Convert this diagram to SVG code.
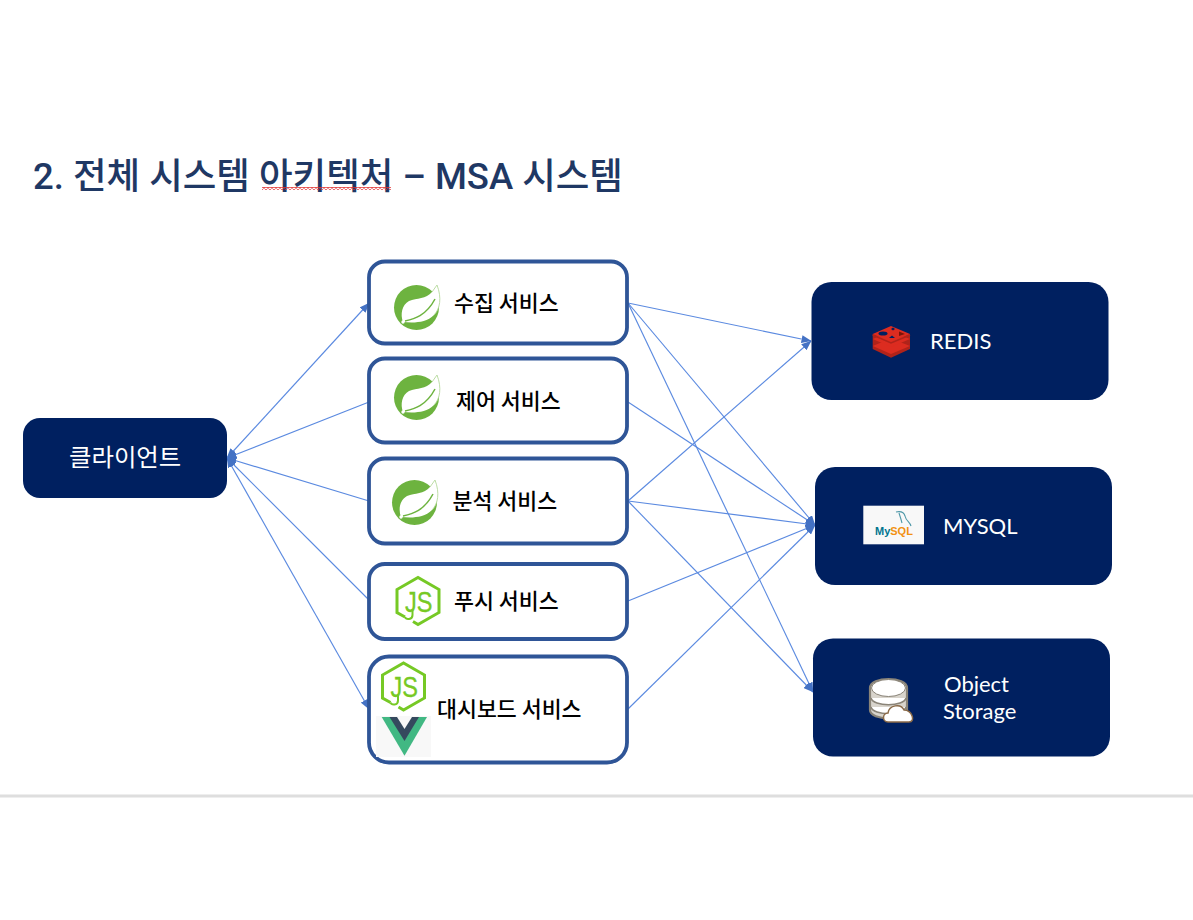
<svg xmlns="http://www.w3.org/2000/svg" width="1193" height="920" viewBox="0 0 1193 920">
<style>
.conn{stroke:#5b8ae0;stroke-width:1.15;fill:none;marker-end:url(#ah)}
.svc{fill:#fff;stroke:#2f5597;stroke-width:3.8}
.dark{fill:#002060}
.kr{font-family:"Noto Sans CJK KR","Noto Sans",sans-serif}
.lbl{font-size:21.7px;font-weight:500;fill:#000}
.lat{font-family:"Lato","Open Sans",sans-serif;font-size:22px;fill:#fff}
.js{font-family:"Liberation Sans",sans-serif;font-size:29px;fill:#76c925;stroke:#76c925;stroke-width:.3}
</style>
<defs>
<marker id="ah" viewBox="0 0 10 8" refX="9.500" refY="4" markerWidth="10" markerHeight="8" markerUnits="userSpaceOnUse" orient="auto-start-reverse"><path d="M0 0L10 4L0 8Z" fill="#4472c4"/></marker>
<pattern id="wavy" width="4" height="3" patternUnits="userSpaceOnUse"><path d="M0 2.200L2 .6L4 2.200" fill="none" stroke="#e03030" stroke-width="1.100"/></pattern>
<g id="spring">
<circle cx="28.500" cy="29.500" r="22.500" fill="#6db33f"/>
<path d="M15 44C12 36 14 27 21 23C29 20 38 21 44 14L49 7C54 20 52 31 46 37C38 45 26 45 15 44Z" fill="#fff"/>
<path d="M44 14L49 7C54 20 52 31 46 37" fill="none" stroke="#b5d99c" stroke-width=".9"/>
<path d="M17 43C26 41 38 38 47 21" fill="none" stroke="#6db33f" stroke-width="1.500"/>
<circle cx="15" cy="44" r="1.700" fill="#fff"/>
</g>
<g id="node">
<path d="M-5 20.500L0 23.500L21 11.500V-11.500L0 -23.500L-21 -11.500V11.500L-13 16" fill="none" stroke="#76c925" stroke-width="3"/>
<path d="M-5.500 8V14C-5.500 19 -12 19 -13 16" fill="none" stroke="#76c925" stroke-width="2"/>
<text class="js" x="-13" y="10.500" textLength="27.500" lengthAdjust="spacingAndGlyphs">JS</text>
</g>
</defs>
<rect width="1193" height="920" fill="#fff"/>
<text x="33" y="189" font-family="Roboto,'Noto Sans CJK KR',sans-serif" font-size="36.500" font-weight="500" fill="#1f3864">2. 전체 시스템 아키텍처 – MSA 시스템</text>
<rect x="262" y="187" width="129" height="3" fill="url(#wavy)"/>
<rect x="0" y="794.500" width="1193" height="3" fill="#dedede"/>
<g id="connectors">
<path class="conn" style="marker-start:url(#ah)" d="M227 458L369 303"/>
<path class="conn" style="marker-end:none;marker-start:url(#ah)" d="M227 458L369 402"/>
<path class="conn" style="marker-end:none;marker-start:url(#ah)" d="M227 458L369 501"/>
<path class="conn" style="marker-end:none;marker-start:url(#ah)" d="M227 458L369 600"/>
<path class="conn" style="marker-start:url(#ah)" d="M227 458L369 709"/>
<path class="conn" d="M628 303L811 341"/>
<path class="conn" d="M628 303L815 525"/>
<path class="conn" d="M628 303L813 692"/>
<path class="conn" d="M628 402L815 525"/>
<path class="conn" d="M628 501L811 341"/>
<path class="conn" d="M628 501L815 525"/>
<path class="conn" d="M628 501L813 692"/>
<path class="conn" d="M628 601L815 525"/>
<path class="conn" d="M628 709L815 525"/>
</g>
<g id="client">
<rect class="dark" x="23" y="418" width="204" height="80" rx="17"/>
<text class="kr" x="69" y="466" font-size="24.400" fill="#fff">클라이언트</text>
</g>
<g id="svc-collect">
<rect class="svc" x="369" y="261.500" width="258" height="82" rx="16"/>
<use href="#spring" x="388" y="278"/>
<text class="kr lbl" x="454" y="311">수집 서비스</text>
</g>
<g id="svc-control">
<rect class="svc" x="369" y="358.500" width="258" height="84" rx="16"/>
<use href="#spring" x="388" y="368"/>
<text class="kr lbl" x="456" y="409">제어 서비스</text>
</g>
<g id="svc-analysis">
<rect class="svc" x="369" y="458.500" width="258" height="85" rx="16"/>
<use href="#spring" x="386" y="473"/>
<text class="kr lbl" x="452.500" y="509">분석 서비스</text>
</g>
<g id="svc-push">
<rect class="svc" x="369" y="564" width="258" height="75" rx="16"/>
<use href="#node" x="418" y="601"/>
<text class="kr lbl" x="454" y="609">푸시 서비스</text>
</g>
<g id="svc-dashboard">
<rect class="svc" x="369" y="656.500" width="258" height="106" rx="20"/>
<use href="#node" x="403.500" y="686.500"/>
<rect x="376" y="716" width="55" height="41" fill="#f8f8f8"/>
<path d="M381.700 717H427L404.500 755.700Z" fill="#41b883"/>
<path d="M389.500 717H419L404.500 741Z" fill="#35495e"/>
<path d="M397 717H412L404.500 729Z" fill="#f8f8f8"/>
<text class="kr lbl" x="437" y="717">대시보드 서비스</text>
</g>
<g id="redis">
<rect class="dark" x="811.500" y="282" width="297" height="118" rx="20"/>
<path d="M872.700 334V349L891 357.700L910 349V334Z" fill="#b0231a"/>
<path d="M872.700 346L891 338.500L910 346L891 354Z" fill="#dc2c20"/>
<path d="M872.700 339L891 331.500L910 339L891 347Z" fill="#dc2c20"/>
<path d="M872.700 334L891 326L910 334L891 342Z" fill="#dc2c20"/>
<path d="M872.700 335L891 343L910 335" fill="none" stroke="#b0231a" stroke-width="1.500"/>
<ellipse cx="883" cy="333.500" rx="4.500" ry="2" fill="#002060"/>
<path d="M891 329l2 -1.500l2 1.500l-2 1.500Z" fill="#002060"/>
<path d="M889 338l3 -2.500l3 2.500Z" fill="#002060"/>
<path d="M899 331.500l6 2.500l-6 2Z" fill="#7a1509"/>
<text class="lat" x="930" y="349">REDIS</text>
</g>
<g id="mysql">
<rect class="dark" x="815" y="467" width="297" height="118" rx="20"/>
<rect x="863.300" y="505.700" width="60.700" height="38.600" fill="#f8f8f8"/>
<path d="M896 512C901 511 904 512 905 516C906 521 910 522 911 526M899 513C900 516 901 519 902 523" fill="none" stroke="#4f98a8" stroke-width="1.100"/>
<text x="875" y="535" font-family="Liberation Sans,sans-serif" font-size="11" font-weight="700"><tspan fill="#00758f">My</tspan><tspan fill="#f29111">SQL</tspan></text>
<text class="lat" x="943" y="533.500">MYSQL</text>
</g>
<g id="object-storage">
<rect class="dark" x="813" y="638.500" width="297" height="118" rx="20"/>
<path d="M870 688C870 676 907 676 907 688V710C907 721 870 721 870 710Z" fill="#d8d4cc" stroke="#8a8478" stroke-width="2.200"/>
<path d="M871 698C873 707 904 707 906 698" fill="#fff" stroke="#8a8478" stroke-width="1.500"/>
<path d="M871 707C873 716 904 716 906 707" fill="#fff" stroke="#8a8478" stroke-width="1.500"/>
<ellipse cx="888.500" cy="688" rx="17" ry="8.500" fill="#fff" stroke="#8a8478" stroke-width="1"/>
<path d="M888 722C882 722 882 713 888 713C889 705 901 703 904 710C912 710 916 722 909 722Z" fill="#fff" stroke="#8a6a48" stroke-width="1.500"/>
<text class="lat" x="944" y="692">Object</text>
<text class="lat" x="943" y="719">Storage</text>
</g>
</svg>
